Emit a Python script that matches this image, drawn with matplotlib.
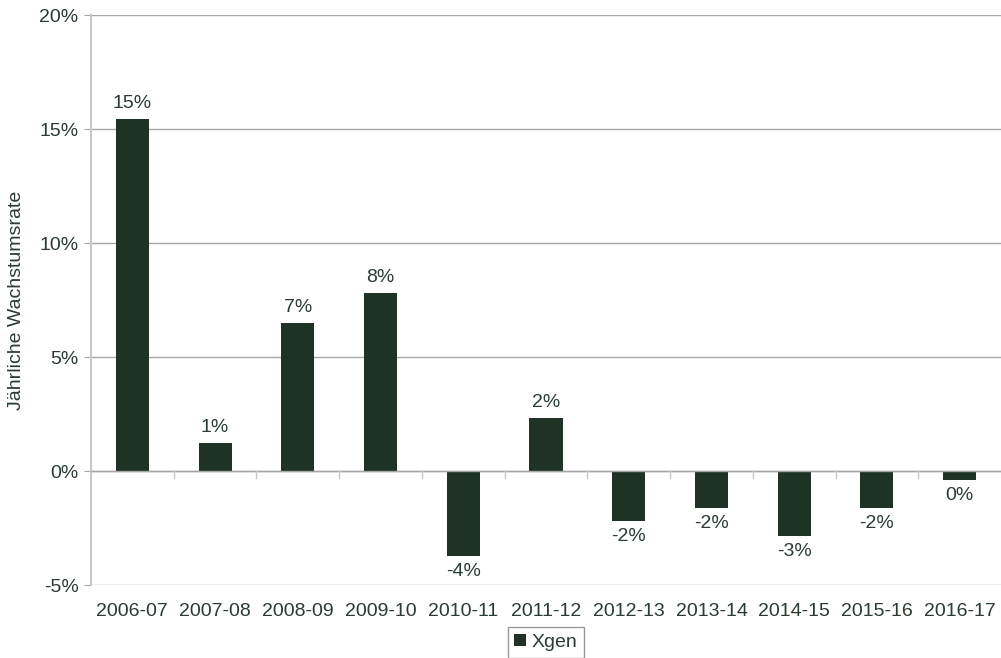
import matplotlib
matplotlib.use("Agg")
import matplotlib.pyplot as plt
import numpy as np

# Data
years = ["2006-07", "2007-08", "2008-09", "2009-10", "2010-11", "2011-12",
         "2012-13", "2013-14", "2014-15", "2015-16", "2016-17"]
growth = [15.44, 1.23, 6.49, 7.81, -3.73, 2.32, -2.19, -1.62, -2.85, -1.62, -0.39]
labels = ["15%", "1%", "7%", "8%", "-4%", "2%", "-2%", "-2%", "-3%", "-2%", "0%"]

bar_color = "#1e3326"
text_color = "#2a3b31"
grid_color = "#a6a6a6"
fs = 14

plt.rcParams["font.family"] = ["Liberation Sans", "DejaVu Sans"]

fig = plt.figure(figsize=(10.01, 6.58), dpi=100)
ax = fig.add_axes([91 / 1001, 1 - 585 / 658, 910 / 1001, 570 / 658])

x = np.arange(len(years))
bars = ax.bar(x, growth, width=0.4, color=bar_color, label="Xgen", zorder=3)

for xi, v, lab in zip(x, growth, labels):
    if v >= 0:
        ax.text(xi, v + 0.3, lab, ha="center", va="bottom", fontsize=fs, color=text_color)
    else:
        ax.text(xi, v - 0.3, lab, ha="center", va="top", fontsize=fs, color=text_color)

ax.set_xlim(-0.5, len(years) - 0.5)
ax.set_ylim(-5, 20)
ax.set_yticks([-5, 0, 5, 10, 15, 20])
ax.set_yticklabels(["-5%", "0%", "5%", "10%", "15%", "20%"])
ax.yaxis.grid(True, color=grid_color, linewidth=1)
ax.set_axisbelow(True)

for s in ["top", "right", "bottom"]:
    ax.spines[s].set_visible(False)
ax.spines["left"].set_color("#c8c8c8")
ax.spines["left"].set_linewidth(1.5)

# zero line with category ticks
ax.axhline(0, color=grid_color, linewidth=1, zorder=4)
for b in np.arange(0.5, len(years) - 1, 1):
    ax.plot([b, b], [0, -0.3], color="#c8c8c8", linewidth=1, zorder=4)

ax.set_xticks(x)
ax.set_xticklabels(years)
ax.tick_params(axis="x", length=0, pad=13, labelsize=fs, colors=text_color)
ax.tick_params(axis="y", length=5, color=grid_color, pad=4, labelsize=fs, labelcolor=text_color)

ax.set_ylabel("Jährliche Wachstumsrate", fontsize=fs, color=text_color, labelpad=10)

leg = ax.legend(loc="upper center", bbox_to_anchor=(0.5, -0.074), frameon=True,
                fancybox=False, handlelength=0.6, handleheight=0.6, handletextpad=0.3,
                borderpad=0.35, borderaxespad=0, fontsize=fs)
leg.get_frame().set_edgecolor("#808080")
leg.get_frame().set_linewidth(1)
for t in leg.get_texts():
    t.set_color(text_color)

fig.savefig("out.png", dpi=100)
